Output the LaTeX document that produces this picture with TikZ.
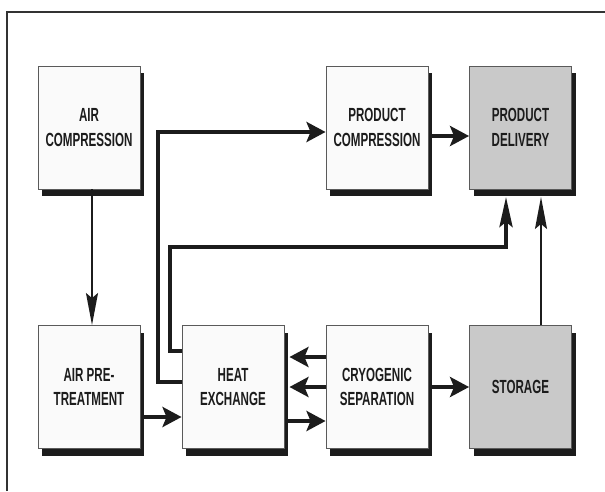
\documentclass[tikz,border=0pt]{standalone}
\usepackage{fontspec}
\newfontfamily\boxfont[FakeStretch=0.61]{Liberation Sans}
\usetikzlibrary{arrows.meta,shadows}
\definecolor{boxfill}{HTML}{FAFAFA}
\definecolor{grayfill}{HTML}{C9C9C9}
\definecolor{edgecol}{HTML}{5A5A5A}
\definecolor{ink}{HTML}{1C1C1C}
\definecolor{framecol}{HTML}{333333}
\tikzset{
  blk/.style={draw=edgecol, line width=0.9pt, fill=boxfill, text=ink,
    minimum width=102pt, minimum height=123pt, inner sep=0pt, align=center,
    font=\boxfont\bfseries\fontsize{19}{24.5}\selectfont,
    general shadow={shadow xshift=4pt, shadow yshift=-7pt, fill=ink}},
  grayblk/.style={blk, fill=grayfill},
  thickarr/.style={draw=ink, line width=4pt, line join=miter,
    -{Stealth[length=19pt,width=20pt,inset=4pt]}},
  thickup/.style={draw=ink, line width=4pt, line join=miter,
    -{Stealth[length=30pt,width=13pt,inset=5pt]}},
  thinarr/.style={draw=ink, line width=1.8pt,
    -{Stealth[length=32pt,width=12pt,inset=5pt]}}
}
\begin{document}
\begin{tikzpicture}[x=1pt,y=-1pt]
\useasboundingbox (0,0) rectangle (605,491);
\fill[white] (0,0) rectangle (605,491);
\draw[framecol, line width=1.2pt] (7,491) -- (7,12) -- (605,12);

\node[blk] (AC) at (89,127.5) {AIR\\COMPRESSION};
\node[blk] (PC) at (377,127.5) {PRODUCT\\COMPRESSION};
\node[grayblk] (PD) at (520.5,127.5) {PRODUCT\\DELIVERY};
\node[blk] (AP) at (89,387) {AIR PRE-\\TREATMENT};
\node[blk] (HE) at (233,387) {HEAT\\EXCHANGE};
\node[blk] (CS) at (377,387) {CRYOGENIC\\SEPARATION};
\node[grayblk] (ST) at (520.5,387) {STORAGE};

\coordinate (k1) at (506,247);

\draw[thinarr] ([xshift=3pt]AC.south) -- ([xshift=3pt]AP.north);
\draw[thickarr] ([yshift=5pt]HE.west) -- ++(-24,0) |- ([yshift=-4.5pt]PC.west);
\draw[thickup] ([yshift=36pt]HE.west) -- ++(-11.5,0) |- (k1) -- ([xshift=-14.5pt,yshift=-7.5pt]PD.south);
\draw[thinarr] ([xshift=20.5pt]ST.north) -- ([xshift=20.5pt,yshift=-7.5pt]PD.south);
\draw[thickarr] ([xshift=4pt,yshift=-8.5pt]PC.east) -- ([yshift=-8.5pt]PD.west);
\draw[thickarr] ([xshift=4pt,yshift=-30pt]AP.east) -- ([yshift=-30pt]HE.west);
\draw[thickarr] ([yshift=30pt]CS.west) -- ([xshift=5pt,yshift=30pt]HE.east);
\draw[thickarr] (CS.west) -- ([xshift=5pt]HE.east);
\draw[thickarr] ([xshift=4pt,yshift=-34pt]HE.east) -- ([yshift=-34pt]CS.west);
\draw[thickarr] ([xshift=4pt]CS.east) -- (ST.west);
\end{tikzpicture}
\end{document}
